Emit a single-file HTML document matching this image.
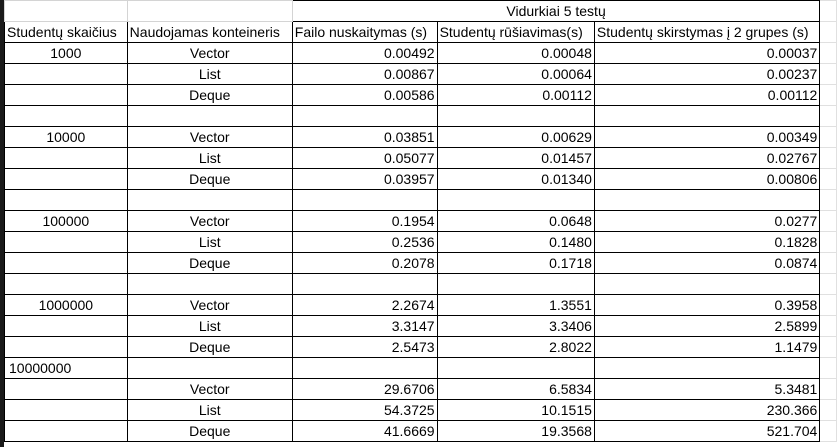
<!DOCTYPE html>
<html><head><meta charset="utf-8"><style>
body{margin:0;width:837px;height:447px;overflow:hidden;background:#fff;font-family:"Liberation Sans",sans-serif;font-size:14px;color:#000;position:relative}
#bar{position:absolute;left:0;top:0;width:4px;height:447px;background:#1a1a1a}
table{position:absolute;left:4px;top:0;border-collapse:collapse;table-layout:fixed}
td{border:1px solid #000;height:20px;padding:0 2px;white-space:nowrap;overflow:visible;line-height:20px}
td.c{text-align:center}td.r{text-align:right}
td.g{border-color:#d4d4d4}
td.x{border-color:#e0e0e0;border-top-color:#e0e0e0}
</style></head><body>
<div id="bar"></div>
<table>
<colgroup><col style="width:125px"><col style="width:168px"><col style="width:147px"><col style="width:160px"><col style="width:228px"><col style="width:20px"></colgroup>
<tbody id="tb">
<tr><td class="g"></td><td class="g"></td><td class="c" colspan="3">Vidurkiai 5 testų</td><td class="x"></td></tr>
<tr><td>Studentų skaičius</td><td>Naudojamas konteineris</td><td>Failo nuskaitymas (s)</td><td>Studentų rūšiavimas(s)</td><td>Studentų skirstymas į 2 grupes (s)</td><td class="x"></td></tr>
</tbody></table>
<script>
const rows=[
["1000","Vector","0.00492","0.00048","0.00037"],
["","List","0.00867","0.00064","0.00237"],
["","Deque","0.00586","0.00112","0.00112"],
["","","","",""],
["10000","Vector","0.03851","0.00629","0.00349"],
["","List","0.05077","0.01457","0.02767"],
["","Deque","0.03957","0.01340","0.00806"],
["","","","",""],
["100000","Vector","0.1954","0.0648","0.0277"],
["","List","0.2536","0.1480","0.1828"],
["","Deque","0.2078","0.1718","0.0874"],
["","","","",""],
["1000000","Vector","2.2674","1.3551","0.3958"],
["","List","3.3147","3.3406","2.5899"],
["","Deque","2.5473","2.8022","1.1479"],
["10000000","","","",""],
["","Vector","29.6706","6.5834","5.3481"],
["","List","54.3725","10.1515","230.366"],
["","Deque","41.6669","19.3568","521.704"]
];
const tb=document.getElementById('tb');
rows.forEach((r,i)=>{
 const tr=document.createElement('tr');
 
 
 r.forEach((v,j)=>{
  const td=document.createElement('td');
  td.className=j<2?'c':'r';
  if(j===0&&v==='10000000'){td.style.textAlign='left';td.style.paddingLeft='4px';}
  td.textContent=v;
  
  
  tr.appendChild(td);
 });
 const e=document.createElement('td');e.className='x';
 
 
 tr.appendChild(e);
 tb.appendChild(tr);
});
</script>
</body></html>
